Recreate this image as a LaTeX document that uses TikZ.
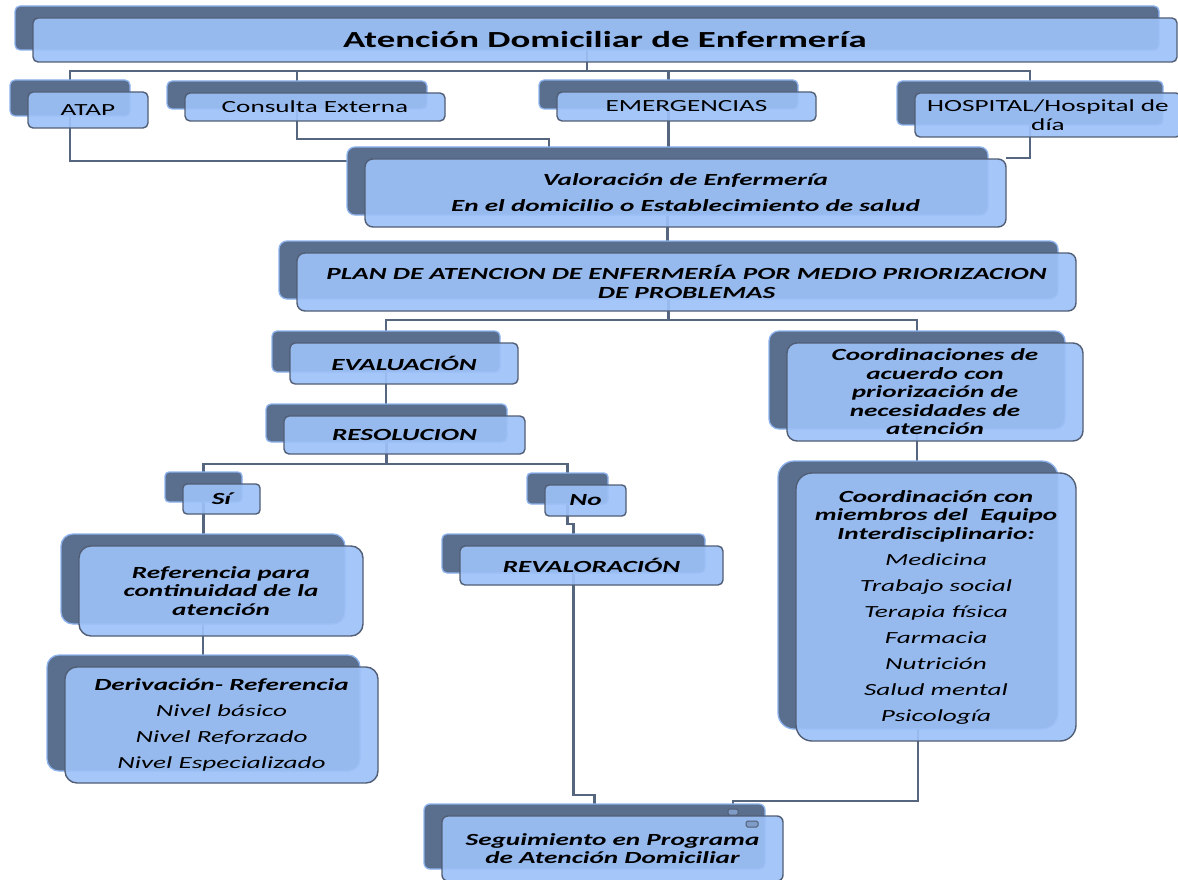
\documentclass[tikz,border=0pt]{standalone}
\usepackage{fontspec}
\setmainfont{Carlito}[FakeStretch=1.6]
\usetikzlibrary{calc}
\pgfdeclarelayer{lines}
\pgfdeclarelayer{backs}
\pgfsetlayers{lines,backs,main}
\definecolor{slate}{HTML}{5A6E8E}
\definecolor{glow}{HTML}{8DB3EE}
\definecolor{face}{HTML}{9DC1F7}
\definecolor{rim}{HTML}{515E75}
\definecolor{wirecol}{HTML}{56667F}
\tikzset{
  backbox/.style={draw=glow, line width=1.3pt, fill=slate, inner sep=0pt, outer sep=0pt},
  frontbox/.style={draw=rim, line width=1.4pt, fill=face, fill opacity=0.92, text opacity=1,
    inner sep=0pt, outer sep=0pt, align=center, text=black,
    font=\fontsize{17}{18.5}\selectfont},
  bi/.style={font=\fontsize{17}{18.5}\selectfont\bfseries\itshape},
  titlefont/.style={font=\fontsize{23}{26}\selectfont\bfseries},
  wire/.style={draw=wirecol, line width=2.2pt},
  handle/.style={draw=rim, line width=1pt, fill=face!55!slate, rounded corners=1.5pt,
    inner sep=0pt, minimum width=10pt, minimum height=6pt}
}
% #1 name, #2 centre, #3 width, #4 height, #5 corner radius, #6 extra options, #7 text
\newcommand\smartbox[7]{%
  \begin{pgfonlayer}{backs}
    \node[backbox, minimum width=#3pt, minimum height=#4pt, rounded corners=#5pt]
      (#1-b) at ($#2+(-18,-12)$) {};
  \end{pgfonlayer}
  \node[frontbox, minimum width=#3pt, minimum height=#4pt, rounded corners=#5pt, #6]
    (#1) at #2 {#7};
}
\begin{document}
\begin{tikzpicture}[x=1pt, y=-1pt]
\useasboundingbox (0,0) rectangle (1178,880);

\smartbox{title}{(605,40)}{1144}{44}{5}{titlefont}{Atención Domiciliar de Enfermería}
\smartbox{atap}{(88,110)}{120}{36}{5}{}{ATAP}
\smartbox{cons}{(315,107)}{260}{28}{5}{}{Consulta Externa}
\smartbox{emer}{(686.5,106.5)}{259}{29}{5}{}{EMERGENCIAS}
\smartbox{hosp}{(1048,115)}{266}{44}{5}{}{HOSPITAL/Hospital de\\día}
\smartbox{val}{(685.5,193)}{641}{68}{8}{bi}{Valoración de Enfermería\\[7.5pt]En el domicilio o Establecimiento de salud}
\smartbox{plan}{(686.5,282)}{779}{58}{8}{bi}{PLAN DE ATENCION DE ENFERMERÍA POR MEDIO PRIORIZACION\\DE PROBLEMAS}
\smartbox{eval}{(404,363.5)}{228}{41}{5}{bi}{EVALUACIÓN}
\smartbox{resol}{(404.5,435)}{241}{38}{5}{bi}{RESOLUCION}
\smartbox{si}{(221.5,499)}{77}{30}{4}{bi}{Sí}
\smartbox{no}{(585.5,500.5)}{81}{31}{4}{bi}{No}
\smartbox{coord}{(935,392)}{296}{98}{10}{bi}{Coordinaciones de\\acuerdo con\\priorización de\\necesidades de\\atención}
\smartbox{ref}{(221,591)}{284}{90}{12}{bi}{Referencia para\\continuidad de la\\atención}
\smartbox{reval}{(591.5,565.5)}{263}{39}{5}{bi}{REVALORACIÓN}
\smartbox{big}{(936,607)}{280}{268}{16}{bi}{Coordinación con\\miembros del \ Equipo\\Interdisciplinario:\\[7.5pt]%
  \mdseries Medicina\\[7.5pt]\mdseries Trabajo social\\[7.5pt]\mdseries Terapia física\\[7.5pt]%
  \mdseries Farmacia\\[7.5pt]\mdseries Nutrición\\[7.5pt]\mdseries Salud mental\\[7.5pt]\mdseries Psicología}
\smartbox{deriv}{(221.5,725)}{313}{116}{12}{bi}{Derivación- Referencia\\[7.5pt]%
  \mdseries Nivel básico\\[7.5pt]\mdseries Nivel Reforzado\\[7.5pt]\mdseries Nivel Especializado}
\smartbox{seg}{(612.5,848.5)}{341}{65}{6}{bi}{Seguimiento en Programa\\de Atención Domiciliar}

% selection handles on the follow-up box
\node[handle] (h1) at (733,812) {};
\node[handle, minimum width=12pt] (h2) at (752,824) {};

\begin{pgfonlayer}{lines}
  % title to the four services
  \draw[wire] (title-b.south) -- (title-b.south |- 0,71);
  \draw[wire] (atap-b.north) |- (hosp-b.north |- 0,71) -- (hosp-b.north);
  \draw[wire] (cons-b.north) -- (cons-b.north |- 0,71);
  \draw[wire] (emer-b.north) -- (emer-b.north |- 0,71);
  % services to nursing assessment
  \draw[wire] (atap-b.south) |- (val-b.west |- 0,161);
  \draw[wire] (cons-b.south) |- (549,139) -- (549,139 |- val-b.north);
  \draw[wire] (emer-b.south) -- (emer-b.south |- val-b.north);
  \draw[wire] (hosp-b.south) |- (val.east |- 0,158);
  % assessment, plan and its two branches
  \draw[wire] (val-b.south) -- (val-b.south |- plan-b.north);
  \draw[wire] (plan-b.south) -- (plan-b.south |- 0,320);
  \draw[wire] (eval-b.north) |- (coord-b.north |- 0,320) -- (coord-b.north);
  \draw[wire] (eval-b.south) -- (eval-b.south |- resol-b.north);
  \draw[wire] (resol-b.south) -- (resol-b.south |- 0,464);
  \draw[wire] (si-b.north) |- (no-b.north |- 0,464) -- (no-b.north);
  \draw[wire] (si-b.south) -- (si-b.south |- ref-b.north);
  \draw[wire] (no-b.south) -- (no-b.south |- 0,524) -| (reval-b.north);
  \draw[wire] (ref-b.south) -- (ref-b.south |- deriv-b.north);
  \draw[wire] (reval-b.south) |- (seg-b.north |- 0,795) -- (seg-b.north);
  \draw[wire] (coord-b.south) -- (coord-b.south |- big-b.north);
  \draw[wire] (big-b.south) |- (733,801) -- (733,801 |- seg-b.north);
\end{pgfonlayer}
\end{tikzpicture}
\end{document}
